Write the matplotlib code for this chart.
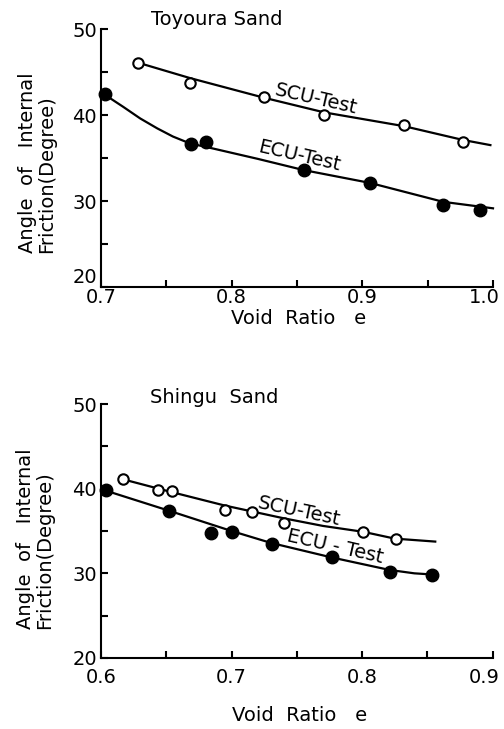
#!/usr/bin/env python3
"""
Angle of internal friction vs. void ratio for Toyoura and Shingu sand
(SCU-Test and ECU-Test), two stacked panels.

Output:
  out.png
"""

import matplotlib
matplotlib.use("Agg")
import matplotlib.pyplot as plt
import matplotlib.transforms as mtransforms
from matplotlib.ticker import MultipleLocator

# --- Toyoura sand: measured points ---
toyoura_scu_e = [0.728, 0.768, 0.825, 0.871, 0.932, 0.977]
toyoura_scu_phi = [46.1, 43.7, 42.1, 40.0, 38.85, 36.9]
toyoura_ecu_e = [0.703, 0.769, 0.780, 0.855, 0.906, 0.962, 0.990]
toyoura_ecu_phi = [42.5, 36.6, 36.9, 33.6, 32.1, 29.5, 29.0]

# --- Toyoura sand: hand-drawn fit lines ---
toyoura_scu_fit_e = [0.728, 0.768, 0.825, 0.871, 0.932, 0.977, 0.998]
toyoura_scu_fit_phi = [46.1, 44.3, 42.0, 40.3, 38.7, 37.1, 36.5]
toyoura_ecu_fit_e = [0.701, 0.717, 0.730, 0.743, 0.755, 0.768, 0.783,
                     0.820, 0.855, 0.906, 0.962, 1.000]
toyoura_ecu_fit_phi = [42.55, 40.95, 39.6, 38.45, 37.5, 36.7, 36.2,
                       34.9, 33.6, 32.1, 29.9, 29.15]

# --- Shingu sand: measured points ---
shingu_scu_e = [0.617, 0.644, 0.654, 0.695, 0.716, 0.740, 0.801, 0.826]
shingu_scu_phi = [41.1, 39.8, 39.7, 37.5, 37.3, 35.9, 34.9, 34.0]
shingu_ecu_e = [0.604, 0.652, 0.6845, 0.7006, 0.7307, 0.7767, 0.8213, 0.8535]
shingu_ecu_phi = [39.9, 37.4, 34.8, 34.85, 33.5, 31.9, 30.2, 29.8]

# --- Shingu sand: hand-drawn fit lines ---
shingu_scu_fit_e = [0.617, 0.654, 0.695, 0.722, 0.740, 0.770, 0.801, 0.825, 0.856]
shingu_scu_fit_phi = [41.1, 39.6, 38.0, 37.1, 36.5, 35.6, 34.9, 34.1, 33.75]
shingu_ecu_fit_e = [0.603, 0.652, 0.700, 0.730, 0.776, 0.800, 0.821, 0.840, 0.855]
shingu_ecu_fit_phi = [39.8, 37.4, 35.0, 33.6, 31.9, 31.1, 30.4, 30.0, 29.85]

YLABEL = "Angle  of   Internal\nFriction(Degree)"
XLABEL = "Void  Ratio   e"

FS = 14


def style_axes(ax, xlim, xticks, xticklabels, xpad):
    ax.set_xlim(*xlim)
    ax.set_ylim(20, 50)
    for side in ("top", "right"):
        ax.spines[side].set_visible(False)
    for side in ("left", "bottom"):
        ax.spines[side].set_linewidth(1.5)
    ax.set_xticks(xticks)
    ax.set_xticklabels(xticklabels)
    ax.xaxis.set_minor_locator(MultipleLocator(0.05))
    ax.set_yticks([20, 30, 40, 50])
    ax.yaxis.set_minor_locator(MultipleLocator(5))
    ax.tick_params(which="both", direction="in", length=5, width=1.5, labelsize=FS)
    ax.tick_params(axis="x", pad=xpad)
    ax.tick_params(axis="y", pad=3)
    # pull the last x label a little to the left so it stays on the page
    last = ax.get_xticklabels()[-1]
    shift = mtransforms.ScaledTranslation(-6 / 72, 0, ax.figure.dpi_scale_trans)
    last.set_transform(last.get_transform() + shift)


def draw_panel(ax, scu, ecu, scu_fit, ecu_fit):
    ax.plot(*scu_fit, color="black", lw=1.6, clip_on=False, zorder=2)
    ax.plot(*ecu_fit, color="black", lw=1.6, clip_on=False, zorder=2)
    ax.plot(*scu, "o", ms=7.5, mfc="white", mec="black", mew=1.5,
            clip_on=False, zorder=3)
    ax.plot(*ecu, "o", ms=9, mfc="black", mec="black", clip_on=False, zorder=3)


fig = plt.figure(figsize=(5.04, 7.29), dpi=100)

# ---- Top panel: Toyoura sand ----
ax1 = fig.add_axes([0.2004, 0.6063, 0.7778, 0.3539])
draw_panel(ax1,
           (toyoura_scu_e, toyoura_scu_phi),
           (toyoura_ecu_e, toyoura_ecu_phi),
           (toyoura_scu_fit_e, toyoura_scu_fit_phi),
           (toyoura_ecu_fit_e, toyoura_ecu_fit_phi))
style_axes(ax1, (0.7, 1.0), [0.7, 0.8, 0.9, 1.0], ["0.7", "0.8", "0.9", "1.0"], 1)
ax1.get_yticklabels()[0].set_va("bottom")
ax1.text(0.296, 1.035, "Toyoura Sand", transform=ax1.transAxes,
         ha="center", va="center", fontsize=FS)
ax1.text(0.8645, 41.9, "SCU-Test", rotation=-13, rotation_mode="anchor",
         ha="center", va="center", fontsize=FS)
ax1.text(0.8515, 35.2, "ECU-Test", rotation=-13, rotation_mode="anchor",
         ha="center", va="center", fontsize=FS)
ax1.text(-0.163, 0.48, YLABEL, transform=ax1.transAxes, rotation=90,
         ha="center", va="center", multialignment="left", fontsize=FS,
         linespacing=1.0)
ax1.text(0.505, -0.124, XLABEL, transform=ax1.transAxes,
         ha="center", va="center", fontsize=FS)

# ---- Bottom panel: Shingu sand ----
ax2 = fig.add_axes([0.2004, 0.0974, 0.7772, 0.3484])
draw_panel(ax2,
           (shingu_scu_e, shingu_scu_phi),
           (shingu_ecu_e, shingu_ecu_phi),
           (shingu_scu_fit_e, shingu_scu_fit_phi),
           (shingu_ecu_fit_e, shingu_ecu_fit_phi))
style_axes(ax2, (0.6, 0.9), [0.6, 0.7, 0.8, 0.9], ["0.6", "0.7", "0.8", "0.9"], 7)
ax2.text(0.288, 1.024, "Shingu  Sand", transform=ax2.transAxes,
         ha="center", va="center", fontsize=FS)
ax2.text(0.7516, 37.3, "SCU-Test", rotation=-12, rotation_mode="anchor",
         ha="center", va="center", fontsize=FS)
ax2.text(0.7792, 33.2, "ECU - Test", rotation=-13, rotation_mode="anchor",
         ha="center", va="center", fontsize=FS)
ax2.text(-0.168, 0.468, YLABEL, transform=ax2.transAxes, rotation=90,
         ha="center", va="center", multialignment="left", fontsize=FS,
         linespacing=1.0)
ax2.text(0.508, -0.228, XLABEL, transform=ax2.transAxes,
         ha="center", va="center", fontsize=FS)

fig.savefig("out.png", dpi=100)
plt.close(fig)
